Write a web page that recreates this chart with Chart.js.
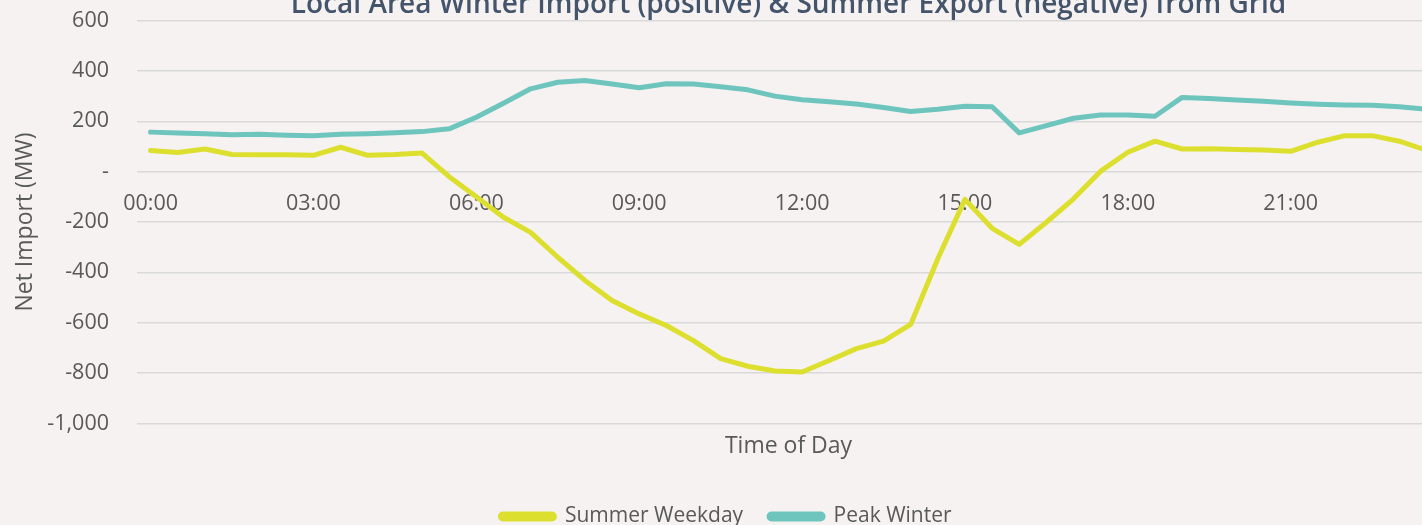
<!DOCTYPE html>
<html>
<head>
<meta charset="utf-8">
<script src="https://cdn.jsdelivr.net/npm/chart.js@4/dist/chart.umd.min.js"></script>
<style>
  html, body { margin: 0; padding: 0; background: #F5F2F1; overflow: hidden; }
  #wrap { position: absolute; left: 0; top: -24px; width: 1460px; height: 567px; }
</style>
</head>
<body>
<div id="wrap"><canvas id="gridChart"></canvas></div>
<script>
// half-hourly time slots
const timeLabels = [
  '00:00', '00:30', '01:00', '01:30', '02:00', '02:30', '03:00', '03:30',
  '04:00', '04:30', '05:00', '05:30', '06:00', '06:30', '07:00', '07:30',
  '08:00', '08:30', '09:00', '09:30', '10:00', '10:30', '11:00', '11:30',
  '12:00', '12:30', '13:00', '13:30', '14:00', '14:30', '15:00', '15:30',
  '16:00', '16:30', '17:00', '17:30', '18:00', '18:30', '19:00', '19:30',
  '20:00', '20:30', '21:00', '21:30', '22:00', '22:30', '23:00', '23:30'
];

// net import in MW (negative = export)
const summerWeekday = [
  84, 76, 90, 68, 67, 67, 65, 97, 65, 68, 74, -20,
  -100, -181, -241, -340, -432, -512, -565, -611, -671, -743, -773, -792,
  -796, -750, -703, -673, -607, -346, -110, -225, -289, -201, -108, 2,
  77, 121, 90, 91, 88, 86, 81, 117, 143, 143, 121, 85
];

const peakWinter = [
  157, 154, 151, 147, 149, 145, 143, 149, 151, 155, 159, 170,
  216, 272, 329, 355, 362, 348, 333, 349, 348, 337, 325, 300,
  286, 278, 269, 255, 239, 248, 260, 258, 154, 183, 212, 225,
  225, 220, 295, 291, 285, 280, 273, 268, 265, 264, 258, 248
];

const yTicks = { min: -1000, max: 600, step: 200 };

const textColor = '#595959';
const gridColor = '#D9D9D9';
const fontFamily = "'Open Sans', sans-serif";

const ctx = document.getElementById('gridChart').getContext('2d');
new Chart(ctx, {
  type: 'line',
  data: {
    labels: timeLabels,
    datasets: [
      {
        label: 'Summer Weekday',
        data: summerWeekday,
        borderColor: '#DDDF2F',
        backgroundColor: '#DDDF2F',
        borderWidth: 5,
        pointRadius: 0,
        tension: 0,
        borderJoinStyle: 'round',
        borderCapStyle: 'round'
      },
      {
        label: 'Peak Winter',
        data: peakWinter,
        borderColor: '#6EC5BD',
        backgroundColor: '#6EC5BD',
        borderWidth: 5,
        pointRadius: 0,
        tension: 0,
        borderJoinStyle: 'round',
        borderCapStyle: 'round'
      }
    ]
  },
  options: {
    responsive: true,
    maintainAspectRatio: false,
    animation: false,
    layout: { padding: { left: 12, right: 20, top: 0, bottom: 6 } },
    scales: {
      // category axis sits on the zero line
      x: {
        type: 'category',
        position: { y: 0 },
        offset: true,
        grid: { display: false },
        border: { display: false },
        ticks: {
          color: textColor,
          autoSkip: false,
          maxRotation: 0,
          padding: 11,
          font: { family: fontFamily, size: 21.5 },
          callback: function(value, index) {
            return index % 6 === 0 ? timeLabels[index] : '';
          }
        }
      },
      // title-only axis at the bottom of the plot
      xTitle: {
        type: 'category',
        position: 'bottom',
        offset: true,
        grid: { display: false },
        border: { display: false },
        ticks: { display: false },
        title: {
          display: true,
          text: 'Time of Day',
          color: textColor,
          font: { family: fontFamily, size: 23 },
          padding: { top: 1, bottom: 20 }
        }
      },
      y: {
        min: yTicks.min,
        max: yTicks.max,
        border: { display: false },
        grid: { color: gridColor, lineWidth: 1.5, drawTicks: false },
        ticks: {
          stepSize: yTicks.step,
          color: textColor,
          padding: 28,
          font: { family: fontFamily, size: 21.5 },
          callback: function(value) {
            return value === 0 ? '-' : value.toLocaleString('en-US');
          }
        },
        title: {
          display: true,
          text: 'Net Import (MW)',
          color: textColor,
          font: { family: fontFamily, size: 23 },
          padding: { top: 0, bottom: 0 }
        },
        afterFit: function(scale) {
          scale.width = 125;
        }
      }
    },
    plugins: {
      title: {
        display: true,
        fullSize: false,
        text: 'Local Area Winter Import (positive) & Summer Export (negative) from Grid',
        color: '#44546A',
        font: { family: fontFamily, size: 28, weight: '600' },
        padding: { top: 12, bottom: -1 }
      },
      legend: {
        position: 'bottom',
        labels: {
          color: textColor,
          font: { family: fontFamily, size: 21 },
          boxWidth: 54,
          boxHeight: 5,
          useBorderRadius: true,
          borderRadius: 2.5,
          padding: 26
        }
      },
      tooltip: { enabled: false }
    }
  }
});
</script>
</body>
</html>
